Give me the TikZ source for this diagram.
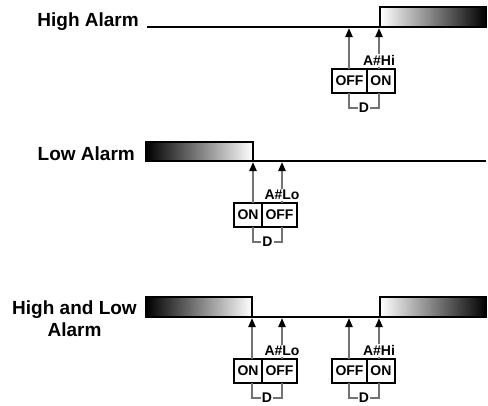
\documentclass[tikz,border=0pt]{standalone}
\usepackage{fontspec}
\setmainfont{Liberation Sans}
\usetikzlibrary{positioning, arrows.meta, calc}
\tikzset{
x=1pt, y=-1pt, % one unit is one pixel of the sketch, y runs down
>={Triangle[length=9pt,width=7.5pt,color=black]}, % solid black arrow heads
level/.style={line width=2.2pt}, % the signal line
band/.style={draw, line width=1.6pt}, % outline of an alarm band
cell/.style={draw, line width=1.3pt, outer sep=0pt, minimum height=24pt, inner xsep=3.5pt, inner ysep=0pt, font=\bfseries\fontsize{14}{14}\selectfont},
wire/.style={draw=black!55, line width=1.2pt}, % grey leader lines
sig/.style={wire, ->, shorten >=1.2pt},
tag/.style={inner sep=1pt, font=\bfseries\fontsize{14}{14}\selectfont},
rowtitle/.style={inner sep=0pt, font=\bfseries\fontsize{19}{22}\selectfont},
}
\begin{document}
\begin{tikzpicture}
\useasboundingbox (0,0) rectangle (488,406);

% high alarm
\node[rowtitle, anchor=base east] (hname) at (139,27) {High Alarm};
\shade[left color=white, middle color=black!25, right color=black] (380,7) rectangle (486,27);
\draw[band] (380,7) rectangle (486,27);
\draw[level] (147,27) -- (380,27);
\coordinate (hoffat) at (349,27);
\coordinate (honat) at (379,27);
\node[cell, anchor=north west] (hoff) at (332,69) {OFF};
\node[cell, right=0pt of hoff] (hon) {ON};
\node[tag, anchor=south, yshift=2pt] (hitag) at (hon.north -| honat) {A\#Hi};
\node[tag] (hd) at ($(hoffat)!0.5!(honat)+(0,81)$) {D};
\draw[sig] (hoff.north -| hoffat) -- (hoffat);
\draw[wire] (hon.north -| honat) -- (hitag);
\draw[sig] (hitag) -- (honat);
\draw[wire] (hoff.south -| hoffat) |- (hd);
\draw[wire] (hon.south -| honat) |- (hd);

% low alarm
\node[rowtitle, anchor=base east] (lname) at (135,161) {Low Alarm};
\shade[left color=black, middle color=black!30, right color=white] (146,142) rectangle (253,161);
\draw[band] (146,142) rectangle (253,161);
\draw[level] (253,161) -- (486,161);
\coordinate (lonat) at (253,161);
\coordinate (loffat) at (282,161);
\node[cell, anchor=north west] (lon) at (234,203) {ON};
\node[cell, right=0pt of lon] (loff) {OFF};
\node[tag, anchor=south, yshift=2pt] (lotag) at (loff.north -| loffat) {A\#Lo};
\node[tag] (ld) at ($(lonat)!0.5!(loffat)+(0,81)$) {D};
\draw[sig] (lon.north -| lonat) -- (lonat);
\draw[wire] (loff.north -| loffat) -- (lotag);
\draw[sig] (lotag) -- (loffat);
\draw[wire] (lon.south -| lonat) |- (ld);
\draw[wire] (loff.south -| loffat) |- (ld);

% high and low alarm
\node[rowtitle, align=center, anchor=base] (bname) at (74.5,337) {High and Low\\Alarm};
\shade[left color=black, middle color=black!30, right color=white] (146,297) rectangle (252,317);
\draw[band] (146,297) rectangle (252,317);
\shade[left color=white, middle color=black!25, right color=black] (380,297) rectangle (486.5,317);
\draw[band] (380,297) rectangle (486.5,317);
\draw[level] (252,317) -- (380,317);
\coordinate (bloonat) at (252,317);
\coordinate (blooffat) at (282,317);
\coordinate (bhioffat) at (349,317);
\coordinate (bhionat) at (379,317);
\node[cell, anchor=north west] (bloon) at (234,359) {ON};
\node[cell, right=0pt of bloon] (blooff) {OFF};
\node[cell, anchor=north west] (bhioff) at (332,359) {OFF};
\node[cell, right=0pt of bhioff] (bhion) {ON};
\node[tag, anchor=south, yshift=2pt] (blotag) at (blooff.north -| blooffat) {A\#Lo};
\node[tag, anchor=south, yshift=2pt] (bhitag) at (bhion.north -| bhionat) {A\#Hi};
\node[tag] (blod) at ($(bloonat)!0.5!(blooffat)+(0,81)$) {D};
\node[tag] (bhid) at ($(bhioffat)!0.5!(bhionat)+(0,81)$) {D};
\draw[sig] (bloon.north -| bloonat) -- (bloonat);
\draw[wire] (blooff.north -| blooffat) -- (blotag);
\draw[sig] (blotag) -- (blooffat);
\draw[wire] (bloon.south -| bloonat) |- (blod);
\draw[wire] (blooff.south -| blooffat) |- (blod);
\draw[sig] (bhioff.north -| bhioffat) -- (bhioffat);
\draw[wire] (bhion.north -| bhionat) -- (bhitag);
\draw[sig] (bhitag) -- (bhionat);
\draw[wire] (bhioff.south -| bhioffat) |- (bhid);
\draw[wire] (bhion.south -| bhionat) |- (bhid);
\end{tikzpicture}
\end{document}
